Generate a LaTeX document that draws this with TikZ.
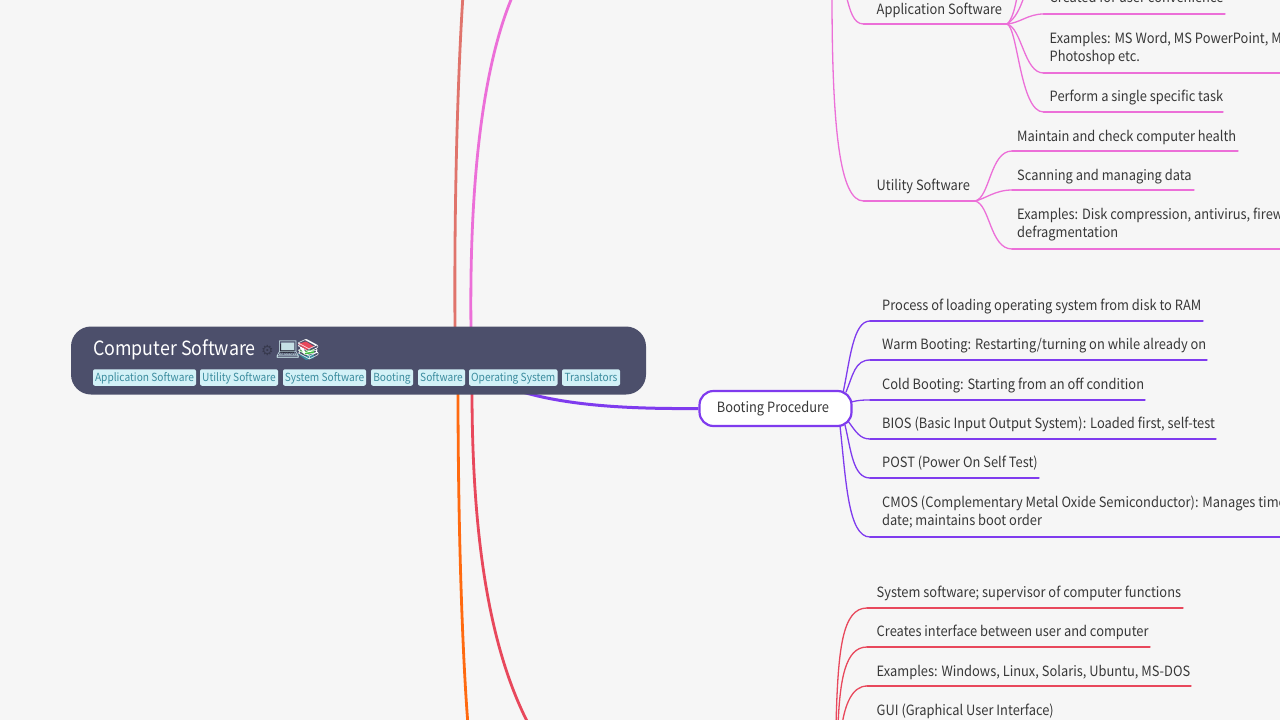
\documentclass[tikz,border=0pt]{standalone}
\usepackage{fontspec}
\setmainfont{Noto Sans CJK SC}[FakeStretch=0.91]
\newfontfamily\emojifont{Noto Emoji}
\newfontfamily\symfont{DejaVu Sans}
\definecolor{bgc}{HTML}{F6F6F6}
\definecolor{rootc}{HTML}{4C4F6B}
\definecolor{tagbg}{HTML}{D3F1F7}
\definecolor{tagfg}{HTML}{3B8C9E}
\definecolor{txt}{HTML}{383838}
\definecolor{pinkc}{HTML}{EC6FD8}
\definecolor{purpc}{HTML}{7F3BEE}
\definecolor{redc}{HTML}{E8485C}
\definecolor{orgc}{HTML}{FF6A10}
\definecolor{salc}{HTML}{E0746C}
\tikzset{
  x=1pt,y=-1pt,
  leaf/.style={anchor=base west,inner sep=0pt,text=txt,font=\fontsize{14.15}{18.4}\selectfont,align=left},
  tagbox/.style={fill=tagbg,rounded corners=2pt,inner sep=0pt,text height=12.6pt,text depth=3.9pt,text=tagfg,font=\fontsize{11.17}{13}\selectfont},
  link/.style={line width=1.3pt,line cap=round},
  trunk/.style={line width=2.8pt},
}
\newcommand{\lf}[8]{% name, x, baseline, text, underline y, x end, colour, line offset
  \node[leaf] (#1) at (#2,#3) {#4};
  \coordinate (#1s) at (#2-#8,#5);
  \coordinate (#1e) at (#6,#5);
  \draw[link,#7] (#1s) -- (#1e);
}
\begin{document}
\begin{tikzpicture}
\useasboundingbox (0,0) rectangle (1280,720);
\clip (0,0) rectangle (1280,720);
\fill[bgc] (0,0) rectangle (1280,720);

% trunks
\coordinate (rt1) at (455,330);
\coordinate (rt2) at (471,330);
\coordinate (rb1) at (458,390);
\coordinate (rb2) at (472,390);
\coordinate (t1) at (463,-5);
\coordinate (t2) at (513,-5);
\coordinate (b1) at (468,725);
\coordinate (b2) at (529,725);
\draw[trunk,salc] (rt1) .. controls (454,200) and (458,70) .. (t1);
\draw[trunk,pinkc] (rt2) .. controls (469,170) and (485,60) .. (t2);
\draw[trunk,orgc] (rb1) .. controls (458,520) and (462,650) .. (b1);
\draw[trunk,redc] (rb2) .. controls (472,540) and (490,650) .. (b2);

% booting node and its trunk
\node[draw=purpc,line width=2.2pt,fill=white,rounded corners=14pt,minimum width=152pt,minimum height=35pt,inner sep=0pt,text=txt,font=\fontsize{14.15}{18}\selectfont] (boot) at (775.5,408.5) {\hspace*{-5pt}\raisebox{1pt}{Booting Procedure}};
\coordinate (bstart) at (516,390);
\draw[line width=3pt,purpc] (bstart) .. controls (566,406) and (630,409) .. (boot.west);

% root
\node[fill=rootc,rounded corners=20pt,minimum width=575pt,minimum height=68pt,inner sep=0pt] (root) at (358.5,360.5) {};
\node[anchor=base west,inner sep=0pt,text=white,font=\fontsize{19.6}{24}\selectfont] (title) at (93,355) {Computer Software};
\node[anchor=base west,inner sep=0pt,text=rootc!72!black,font=\symfont\fontsize{14}{16}\selectfont] (gear) at (261,355) {⚙};
% laptop colours under the glyph
\fill[rootc!55!black] (280,343.5) rectangle (294,353);
\node[anchor=base west,inner sep=0pt,text=tagbg!85!gray,font=\emojifont\fontsize{20}{20}\selectfont] (lap) at (275,356) {💻};
% book colours under the glyph
\fill[redc] (298,344) -- (306,341.5) -- (314,346.5) -- (306,350) -- cycle;
\fill[green!50!gray] (298,350) -- (306,351) -- (314,349) -- (314,353) -- (306,355) -- cycle;
\fill[tagfg] (298,354) -- (306,356) -- (314,354) -- (314,358) -- (306,360) -- cycle;
\node[anchor=base west,inner sep=0pt,text=white,font=\emojifont\fontsize{20}{20}\selectfont] (bk) at (295.5,356) {📚};
\node[tagbox,minimum width=103pt] (g1) at (144.5,377.5) {Application Software};
\node[tagbox,minimum width=78pt] (g2) at (239,377.5) {Utility Software};
\node[tagbox,minimum width=83pt] (g3) at (324.5,377.5) {System Software};
\node[tagbox,minimum width=42pt] (g4) at (392,377.5) {Booting};
\node[tagbox,minimum width=47pt] (g5) at (441.5,377.5) {Software};
\node[tagbox,minimum width=88.5pt] (g6) at (513.25,377.5) {Operating System};
\node[tagbox,minimum width=58pt] (g7) at (591,377.5) {Translators};

% booting leaves
\lf{p1}{882}{310}{Process of loading operating system from disk to RAM}{321}{1203}{purpc}{12}
\lf{p2}{882}{349}{Warm Booting: Restarting/turning on while already on}{360}{1207}{purpc}{12}
\lf{p3}{882}{389}{Cold Booting: Starting from an off condition}{400}{1145}{purpc}{12}
\lf{p4}{882}{428}{BIOS (Basic Input Output System): Loaded first, self-test}{439}{1216}{purpc}{12}
\lf{p5}{882}{467}{POST (Power On Self Test)}{478}{1039}{purpc}{12}
\lf{p6}{882}{525.5}{CMOS (Complementary Metal Oxide Semiconductor): Manages time\\date; maintains boot order}{537}{1285}{purpc}{12}
\coordinate (ba) at (843,393);
\coordinate (bb) at (846,392);
\coordinate (bc) at (851,402);
\coordinate (bd) at (848,421);
\coordinate (be) at (845,425);
\coordinate (bf) at (840,426);
\draw[link,purpc] (ba) .. controls (850,360) and (853,321) .. (p1s);
\draw[link,purpc] (bb) .. controls (853,375) and (855,360) .. (p2s);
\draw[link,purpc] (bc) .. controls (860,400) and (862,400) .. (p3s);
\draw[link,purpc] (bd) .. controls (856,432) and (860,439) .. (p4s);
\draw[link,purpc] (be) .. controls (851,450) and (853,478) .. (p5s);
\draw[link,purpc] (bf) .. controls (846,480) and (848,537) .. (p6s);

% software side (pink)
\coordinate (ps) at (846,-5);
\coordinate (pv) at (832,-5);
\lf{app}{876.5}{14}{Application Software}{24}{1007}{pinkc}{13}
\lf{uti}{876.5}{190}{Utility Software}{201}{975}{pinkc}{13}
\draw[link,pinkc] (ps) .. controls (850,10) and (853,24) .. (apps);
\draw[link,pinkc] (pv) .. controls (832,130) and (840,201) .. (utis);
\lf{a1}{1049.5}{2}{Created for user convenience}{14}{1225}{pinkc}{6}
\lf{a2}{1049.5}{61.5}{Examples: MS Word, MS PowerPoint, M\\Photoshop etc.}{73}{1285}{pinkc}{6}
\lf{a3}{1049.5}{101.5}{Perform a single specific task}{112}{1223}{pinkc}{6}
\coordinate (au1) at (1017,-3);
\coordinate (au2) at (1024,-3);
\draw[link,pinkc] (appe) .. controls (1020,23) and (1028,14) .. (a1s);
\draw[link,pinkc] (appe) .. controls (1022,28) and (1024,73) .. (a2s);
\draw[link,pinkc] (appe) .. controls (1018,28) and (1020,112) .. (a3s);
\draw[link,pinkc] (appe) .. controls (1012,20) and (1015,8) .. (au1);
\draw[link,pinkc] (appe) .. controls (1016,18) and (1020,8) .. (au2);
\lf{u1}{1017}{141}{Maintain and check computer health}{151}{1238}{pinkc}{5}
\lf{u2}{1017}{180}{Scanning and managing data}{190}{1194}{pinkc}{5}
\lf{u3}{1017}{237.5}{Examples: Disk compression, antivirus, firew\\defragmentation}{249}{1285}{pinkc}{5}
\draw[link,pinkc] (utie) .. controls (990,198) and (990,151) .. (u1s);
\draw[link,pinkc] (utie) .. controls (985,199) and (995,190) .. (u2s);
\draw[link,pinkc] (utie) .. controls (990,204) and (990,249) .. (u3s);

% operating system (red)
\lf{r1}{876.5}{597}{System software; supervisor of computer functions}{608}{1183}{redc}{9.5}
\lf{r2}{876.5}{636}{Creates interface between user and computer}{647}{1150}{redc}{9.5}
\lf{r3}{876.5}{676}{Examples: Windows, Linux, Solaris, Ubuntu, MS-DOS}{686}{1191}{redc}{9.5}
\node[leaf] (r4) at (876.5,715) {GUI (Graphical User Interface)};
\coordinate (ra) at (836,725);
\coordinate (rb) at (838,725);
\coordinate (rc) at (842,725);
\draw[link,redc] (ra) .. controls (838,650) and (842,608) .. (r1s);
\draw[link,redc] (rb) .. controls (840,680) and (845,647) .. (r2s);
\draw[link,redc] (rc) .. controls (845,705) and (852,686) .. (r3s);
\end{tikzpicture}
\end{document}
